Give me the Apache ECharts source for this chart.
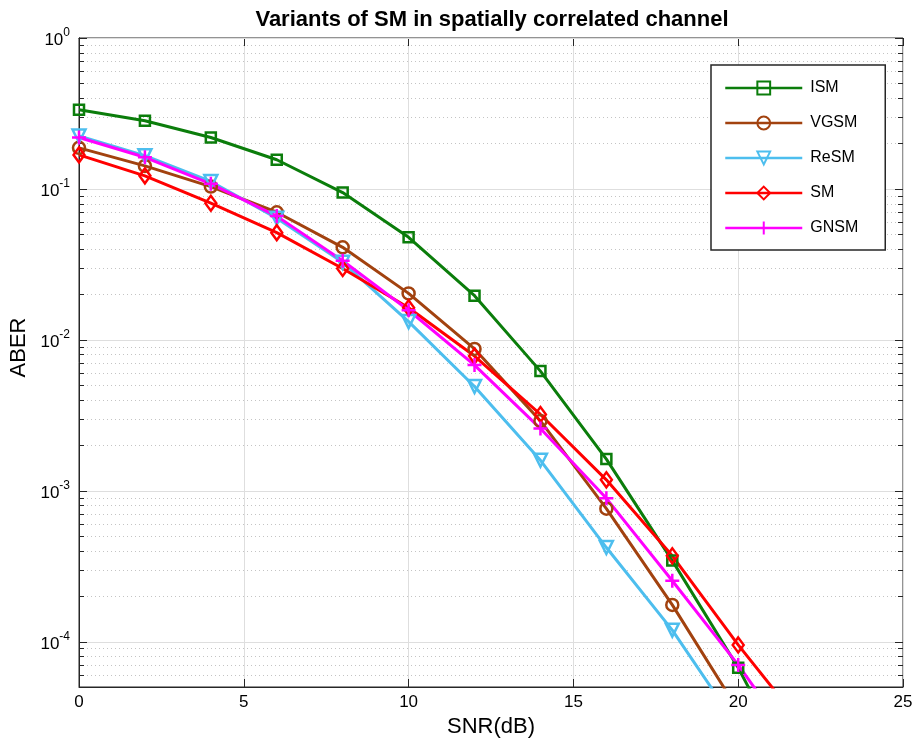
<!DOCTYPE html>
<html><head><meta charset="utf-8">
<script src="https://cdn.jsdelivr.net/npm/echarts@6/dist/echarts.min.js"></script>
<style>html,body{margin:0;padding:0;background:#fff}#c{width:917px;height:742px}</style>
</head><body><div id="c"></div>
<script>
const snr  = [0, 2, 4, 6, 8, 10, 12, 14, 16, 18, 20, 22];
const ism  = [0.335, 0.283, 0.219, 0.156, 0.0945, 0.0478, 0.0196, 0.0062, 0.00162, 3.44e-4, 6.7e-5, 1.0e-5];
const vgsm = [0.187, 0.142, 0.1036, 0.070, 0.041, 0.0203, 0.0087, 0.0029, 7.6e-4, 1.75e-4, 3.5e-5];
const resm = [0.224, 0.166, 0.112, 0.064, 0.0326, 0.0132, 0.0049, 0.00159, 4.2e-4, 1.19e-4, 2.7e-5];
const sm   = [0.168, 0.122, 0.0804, 0.0513, 0.0297, 0.0163, 0.0078, 0.0032, 0.00118, 3.7e-4, 9.5e-5, 2.7e-5];
const gnsm = [0.219, 0.162, 0.108, 0.066, 0.0334, 0.0157, 0.0068, 0.00258, 8.9e-4, 2.53e-4, 7.0e-5, 1.7e-5];
const names = ['ISM', 'VGSM', 'ReSM', 'SM', 'GNSM'];
const yMajor = [1e-4, 1e-3, 1e-2, 1e-1, 1];
const yMin = 5e-5, yMax = 1;
const minorDecades = [-5, -4, -3, -2, -1];
const minorMults = [2, 3, 4, 5, 6, 7, 8, 9];

const FONT = '"Liberation Sans", Arial, Helvetica, sans-serif';
const minors = [];
minorDecades.forEach(e => minorMults.forEach(m => { const v = m * Math.pow(10, e); if (v > yMin && v < yMax) minors.push(v); }));
const gridRows = yMajor.map(v => [0, v, 1]).concat(minors.map(v => [0, v, 0]));

function pairs(arr) { return arr.map((v, i) => [snr[i], v]); }
const AX = '#262626';

function mkSeries(name, data, color, symbol, extra) {
  return Object.assign({
    name: name, type: 'line', data: pairs(data), xAxisIndex: 0, yAxisIndex: 0,
    symbol: symbol, symbolSize: 10, showAllSymbol: true, clip: true,
    lineStyle: { color: color, width: 3 },
    itemStyle: { color: 'rgba(255,255,255,0)', borderColor: color, borderWidth: 2.5 },
    emphasis: { disabled: true }, z: 3
  }, extra || {});
}

const chart = echarts.init(document.getElementById('c'), null, { renderer: 'canvas' });
chart.setOption({
  animation: false,
  backgroundColor: '#fff',
  title: {
    text: 'Variants of SM in spatially correlated channel',
    left: 487, top: 4, textAlign: 'center',
    textStyle: { fontFamily: FONT, fontWeight: 'bold', fontSize: 22, color: '#000' }
  },
  grid: { left: 79, right: 14, top: 38, bottom: 55, show: true, borderColor: AX, borderWidth: 1, backgroundColor: '#fff', outerBoundsMode: 'none', containLabel: false },
  legend: {
    orient: 'vertical', left: 711, top: 65, data: names,
    itemWidth: 77, itemHeight: 16, itemGap: 19,
    padding: [15, 27, 14, 13],
    borderColor: AX, borderWidth: 1.5, backgroundColor: '#fff',
    lineStyle: { width: 2.5 },
    textStyle: { fontFamily: FONT, fontSize: 16, color: '#000', padding: [0, 0, 0, 3] }
  },
  xAxis: [{
    type: 'value', min: 0, max: 25, interval: 5,
    name: 'SNR(dB)', nameLocation: 'middle', nameGap: 29,
    nameTextStyle: { fontFamily: FONT, fontSize: 22, color: '#000' },
    axisLine: { show: true, lineStyle: { color: AX, width: 1 } },
    axisTick: { inside: true, length: 8, lineStyle: { color: AX } },
    axisLabel: { fontFamily: FONT, fontSize: 17, color: '#000', margin: 7 },
    splitLine: { show: true, lineStyle: { color: '#dedede', width: 1 } }
  }, {
    type: 'value', min: 0, max: 25, interval: 5, position: 'top',
    axisLine: { show: true, lineStyle: { color: AX, width: 1 } },
    axisTick: { inside: true, length: 8, lineStyle: { color: AX } },
    axisLabel: { show: false }, splitLine: { show: false }
  }],
  yAxis: [{
    type: 'log', logBase: 10, min: yMin, max: yMax,
    name: 'ABER', nameLocation: 'middle', nameGap: 41, nameRotate: 90,
    nameTextStyle: { fontFamily: FONT, fontSize: 22, color: '#000', padding: [0, 0, 0, 30] },
    axisLine: { show: true, lineStyle: { color: AX, width: 1 } },
    axisTick: { show: false },
    axisLabel: {
      margin: 9,
      formatter: function (v) {
        const e = Math.log10(v); const r = Math.round(e);
        if (Math.abs(e - r) > 1e-6) return '';
        return '{b|10}{s|' + r + '}';
      },
      rich: {
        b: { fontFamily: FONT, fontSize: 17, color: '#000', lineHeight: 22, verticalAlign: 'bottom' },
        s: { fontFamily: FONT, fontSize: 12, color: '#000', lineHeight: 22, verticalAlign: 'top' }
      }
    },
    splitLine: { show: false }
  }, {
    type: 'log', logBase: 10, min: yMin, max: yMax, position: 'right',
    axisLine: { show: true, lineStyle: { color: AX, width: 1 } },
    axisTick: { show: false },
    axisLabel: { show: false }, splitLine: { show: false }
  }],
  series: [
    {
      type: 'custom', xAxisIndex: 0, yAxisIndex: 0, silent: true, z: 1,
      data: gridRows,
      renderItem: function (params, api) {
        const cs = params.coordSys;
        const major = api.value(2) === 1;
        const y = Math.round(api.coord([0, api.value(1)])[1]) + 0.5;
        const tl = major ? 8 : 5;
        return {
          type: 'group', children: [
            { type: 'line', shape: { x1: cs.x, y1: y, x2: cs.x + cs.width, y2: y },
              style: major ? { stroke: '#dedede', lineWidth: 1 } : { stroke: '#c4c4c4', lineWidth: 1, lineDash: [1, 3] } },
            { type: 'line', shape: { x1: cs.x, y1: y, x2: cs.x + tl, y2: y }, style: { stroke: AX, lineWidth: 1 } },
            { type: 'line', shape: { x1: cs.x + cs.width - tl, y1: y, x2: cs.x + cs.width, y2: y }, style: { stroke: AX, lineWidth: 1 } }
          ]
        };
      }
    },
    mkSeries('ISM', ism, '#0b7d0b', 'rect', { symbolSize: 10 }),
    mkSeries('VGSM', vgsm, '#a2420f', 'circle', { symbolSize: 12 }),
    mkSeries('ReSM', resm, '#4dbeee', 'triangle', { symbolRotate: 180, symbolSize: 13 }),
    mkSeries('SM', sm, '#ff0000', 'diamond', { symbolSize: [11, 15] }),
    mkSeries('GNSM', gnsm, '#ff00ff', 'path://M5 0V10M0 5H10', { symbolSize: 14 })
  ]
});
</script>
</body></html>
